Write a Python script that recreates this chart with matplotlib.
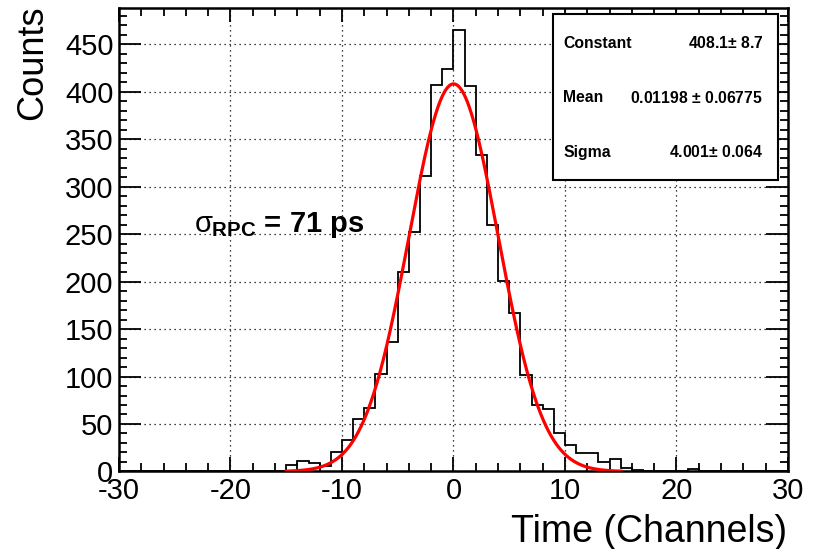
import numpy as np
import matplotlib.pyplot as plt
from matplotlib.ticker import MultipleLocator
from matplotlib.patches import Rectangle

plt.rcParams["font.family"] = ["Liberation Sans", "DejaVu Sans"]
plt.rcParams["axes.unicode_minus"] = False
plt.rcParams["mathtext.fontset"] = "custom"
plt.rcParams["mathtext.rm"] = "Liberation Sans:bold"
plt.rcParams["mathtext.it"] = "Liberation Sans"
plt.rcParams["mathtext.bf"] = "Liberation Sans:bold"
plt.rcParams["mathtext.default"] = "regular"

# histogram: 60 bins of width 1 from -30 to 30
bin_edges = np.arange(-30, 31, 1)
counts = [
    0, 1, 1, 0, 0, 0, 0, 0, 0, 1, 1, 0, 1, 1, 0,          # -30 .. -16
    7, 11, 9, 6, 21, 33, 55, 67, 103, 136, 210, 252,       # -15 .. -4
    311, 407, 424, 465, 406, 333, 260, 201, 167, 102,      # -3 .. 6
    70, 66, 40, 28, 19, 19, 10, 13, 4, 2, 1, 0, 1, 0,      # 7 .. 20
    3, 1, 0, 0, 0, 0, 0, 0, 0,                             # 21 .. 29
]

# gaussian fit results
fit_const, fit_const_err = 408.1, 8.7
fit_mean, fit_mean_err = 0.01198, 0.06775
fit_sigma, fit_sigma_err = 4.001, 0.064
fit_range = (-15, 15)

fig = plt.figure(figsize=(8.14, 5.49), dpi=100)
ax = fig.add_axes([0.1462, 0.1412, 0.8218, 0.8442])

ax.stairs(counts, bin_edges, color="black", lw=1.3, zorder=3)

xf = np.linspace(fit_range[0], fit_range[1], 400)
yf = fit_const * np.exp(-0.5 * ((xf - fit_mean) / fit_sigma) ** 2)
ax.plot(xf, yf, color="red", lw=2.3, zorder=4)

ax.set_xlim(-30, 30)
ax.set_ylim(0, 488)

ax.xaxis.set_major_locator(MultipleLocator(10))
ax.xaxis.set_minor_locator(MultipleLocator(2))
ax.yaxis.set_major_locator(MultipleLocator(50))
ax.yaxis.set_minor_locator(MultipleLocator(10))

ax.tick_params(which="both", direction="in", top=True, right=True,
               width=1.3, labelsize=21, colors="black")
ax.tick_params(axis="x", which="major", length=10, pad=4)
ax.tick_params(axis="x", which="minor", length=6)
ax.tick_params(axis="y", which="major", length=16, pad=4)
ax.tick_params(axis="y", which="minor", length=6)

for s in ax.spines.values():
    s.set_linewidth(1.8)

ax.grid(True, which="major", color="black", ls=(0, (1, 3)), lw=0.9)
ax.set_axisbelow(True)

fig.text(0.967, 0.013, "Time (Channels)", ha="right", va="baseline", fontsize=27)
fig.text(0.04, 0.99, "Counts", ha="center", va="top", rotation=90, fontsize=26)

ax.text(-23.3, 252, r"$\mathit{\sigma}_{\mathbf{RPC}}$ = 71 ps", fontsize=21,
        fontweight="bold", ha="left", va="baseline", zorder=5)

# stats box
ax.add_patch(Rectangle((0.649, 0.629), 0.336, 0.358, transform=ax.transAxes,
                       facecolor="white", edgecolor="black", lw=1.5, zorder=6))
rows = [
    ("Constant", f"{fit_const}$\\pm$ {fit_const_err}"),
    ("Mean", f"{fit_mean} $\\pm$ {fit_mean_err}"),
    ("Sigma", f"{fit_sigma}$\\pm$ {fit_sigma_err}"),
]
for (name, val), yy in zip(rows, [0.924, 0.806, 0.689]):
    ax.text(0.664, yy, name, transform=ax.transAxes, fontsize=11.3,
            fontweight="bold", ha="left", va="center", zorder=7)
    ax.text(0.963, yy, val, transform=ax.transAxes, fontsize=11.3,
            fontweight="bold", ha="right", va="center", zorder=7)

fig.savefig("out.png", dpi=100)
